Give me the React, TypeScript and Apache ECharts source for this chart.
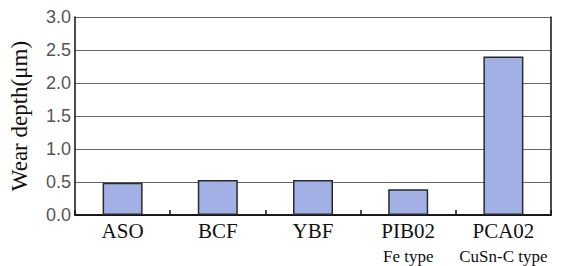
import React, { useEffect, useRef } from "react";
import * as echarts from "echarts";

const categories = ["ASO", "BCF", "YBF", "PIB02", "PCA02"];
const subLabels = ["", "", "", "Fe type", "CuSn-C type"];
const wearDepth = [0.49, 0.53, 0.53, 0.39, 2.4];
const yTitle = "Wear depth(μm)";

export default function App() {
  const ref = useRef<HTMLDivElement>(null);
  useEffect(() => {
    if (!ref.current) return;
    const chart = echarts.init(ref.current, undefined, { renderer: "svg" });
    chart.setOption({
      animation: false,
      backgroundColor: "#ffffff",
      grid: { left: 74, right: 15, top: 17, bottom: 51, containLabel: false },
      xAxis: [
        {
          type: "category",
          data: categories,
          axisLine: { lineStyle: { color: "#111", width: 1.5 } },
          axisTick: { show: true, inside: true, length: 5, lineStyle: { color: "#111", width: 1.5 } },
          axisLabel: {
            margin: 4,
            interval: 0,
            formatter: (v: string) => {
              const i = categories.indexOf(v);
              return subLabels[i] ? `{a|${v}}\n{b|${subLabels[i]}}` : `{a|${v}}`;
            },
            rich: {
              a: { fontFamily: "Liberation Serif", fontSize: 21, color: "#111", lineHeight: 24 },
              b: { fontFamily: "Liberation Serif", fontSize: 17, color: "#111", lineHeight: 26 },
            },
          },
        },
        {
          type: "category",
          position: "top",
          data: categories,
          axisLine: { show: true, lineStyle: { color: "#111", width: 1.5 } },
          axisTick: { show: false },
          axisLabel: { show: false },
        },
      ],
      yAxis: [
        {
          type: "value",
          min: 0,
          max: 3,
          interval: 0.5,
          name: yTitle,
          nameLocation: "middle",
          nameGap: 44,
          nameTextStyle: { fontFamily: "Liberation Serif", fontSize: 23, color: "#111" },
          axisLine: { show: true, lineStyle: { color: "#111", width: 1.5 } },
          axisTick: { show: false },
          axisLabel: {
            margin: 4,
            fontFamily: "Liberation Sans",
            fontSize: 18,
            color: "#555",
            formatter: (v: number) => v.toFixed(1),
          },
          splitLine: { show: true, lineStyle: { color: "#666", width: 1 } },
        },
        {
          type: "value",
          min: 0,
          max: 3,
          interval: 0.5,
          position: "right",
          axisLine: { show: true, lineStyle: { color: "#111", width: 1.5 } },
          axisTick: { show: false },
          axisLabel: { show: false },
          splitLine: { show: false },
        },
      ],
      series: [
        {
          type: "bar",
          data: wearDepth,
          barWidth: 40,
          itemStyle: { color: "#a2b0e6", borderColor: "#2a2a2a", borderWidth: 1.5 },
        },
      ],
    });
    return () => chart.dispose();
  }, []);
  return (
    <div
      ref={ref}
      style={{ position: "fixed", left: 0, top: 0, width: 566, height: 266 }}
    />
  );
}
